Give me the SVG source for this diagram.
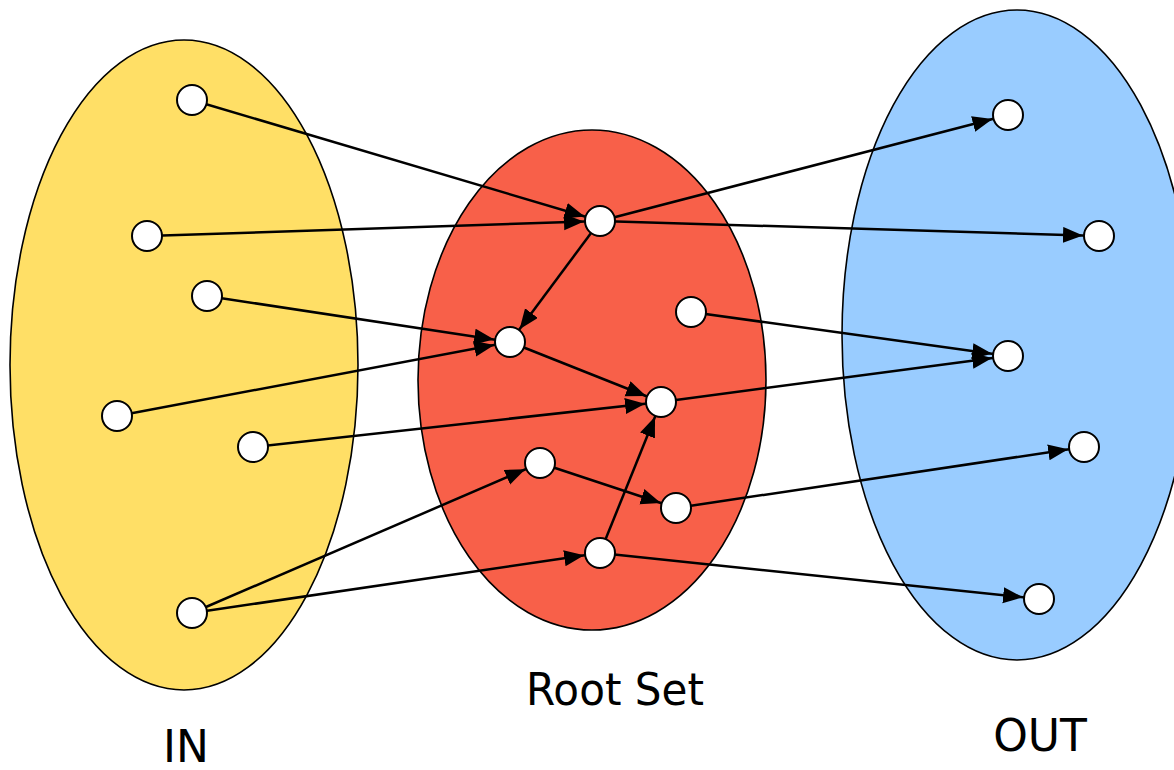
<svg xmlns="http://www.w3.org/2000/svg" width="1174" height="770" viewBox="0 0 1174 770">
<style>
.set{stroke:#000;stroke-width:1.6}
.n{fill:#fff;stroke:#000;stroke-width:2}
.e{stroke:#000;stroke-width:2.5;fill:none;marker-end:url(#ah)}
.lbl{font-family:"DejaVu Sans",Verdana,sans-serif;font-size:44px;fill:#000}
</style>
<defs>
<marker id="ah" markerUnits="userSpaceOnUse" markerWidth="40" markerHeight="18" refX="36" refY="8" orient="auto">
<path d="M0,0 L20,8 L0,16 z" fill="#000"/>
</marker>
</defs>
<rect width="1174" height="770" fill="#fff"/>
<g id="set-in"><ellipse class="set" cx="184" cy="365" rx="174" ry="325" fill="#FFDF66"/><text class="lbl" x="186" y="762" text-anchor="middle">IN</text></g>
<g id="set-root"><ellipse class="set" cx="592" cy="380" rx="174" ry="250" fill="#F86049"/><text class="lbl" x="615" y="705" text-anchor="middle" textLength="178" lengthAdjust="spacingAndGlyphs">Root Set</text></g>
<g id="set-out"><ellipse class="set" cx="1017" cy="335" rx="175" ry="325" fill="#99CCFF"/><text class="lbl" x="1040" y="751" text-anchor="middle">OUT</text></g>
<g id="connectors">
<line class="e" x1="192" y1="100" x2="600" y2="221"/>
<line class="e" x1="147" y1="236" x2="600" y2="221"/>
<line class="e" x1="207" y1="296" x2="510" y2="342"/>
<line class="e" x1="117" y1="416" x2="510" y2="342"/>
<line class="e" x1="253" y1="447" x2="661" y2="402"/>
<line class="e" x1="192" y1="613" x2="540" y2="463"/>
<line class="e" x1="192" y1="613" x2="600" y2="553"/>
<line class="e" x1="600" y1="221" x2="1008" y2="115"/>
<line class="e" x1="600" y1="221" x2="1099" y2="236"/>
<line class="e" x1="600" y1="221" x2="510" y2="342"/>
<line class="e" x1="691" y1="312" x2="1008" y2="356"/>
<line class="e" x1="510" y1="342" x2="661" y2="402"/>
<line class="e" x1="661" y1="402" x2="1008" y2="356"/>
<line class="e" x1="540" y1="463" x2="676" y2="508"/>
<line class="e" x1="676" y1="508" x2="1084" y2="447"/>
<line class="e" x1="600" y1="553" x2="661" y2="402"/>
<line class="e" x1="600" y1="553" x2="1039" y2="599"/>
</g>
<g id="in1"><circle class="n" cx="192" cy="100" r="15"/></g>
<g id="in2"><circle class="n" cx="147" cy="236" r="15"/></g>
<g id="in3"><circle class="n" cx="207" cy="296" r="15"/></g>
<g id="in4"><circle class="n" cx="117" cy="416" r="15"/></g>
<g id="in5"><circle class="n" cx="253" cy="447" r="15"/></g>
<g id="in6"><circle class="n" cx="192" cy="613" r="15"/></g>
<g id="r1"><circle class="n" cx="600" cy="221" r="15"/></g>
<g id="r2"><circle class="n" cx="510" cy="342" r="15"/></g>
<g id="r3"><circle class="n" cx="691" cy="312" r="15"/></g>
<g id="r4"><circle class="n" cx="661" cy="402" r="15"/></g>
<g id="r5"><circle class="n" cx="540" cy="463" r="15"/></g>
<g id="r6"><circle class="n" cx="676" cy="508" r="15"/></g>
<g id="r7"><circle class="n" cx="600" cy="553" r="15"/></g>
<g id="o1"><circle class="n" cx="1008" cy="115" r="15"/></g>
<g id="o2"><circle class="n" cx="1099" cy="236" r="15"/></g>
<g id="o3"><circle class="n" cx="1008" cy="356" r="15"/></g>
<g id="o4"><circle class="n" cx="1084" cy="447" r="15"/></g>
<g id="o5"><circle class="n" cx="1039" cy="599" r="15"/></g>
</svg>
